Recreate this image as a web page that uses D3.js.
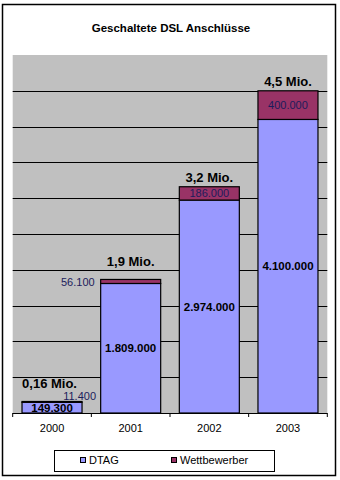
<!DOCTYPE html>
<html lang="de">
<head>
    <meta charset="UTF-8">
    <title>Geschaltete DSL Anschlüsse</title>
    <script src="https://d3js.org/d3.v7.min.js"></script>
    <style>
        body { margin: 0; background: #fff; }
        text { font-family: "Liberation Sans", Arial, sans-serif; }
    </style>
</head>
<body>
<svg width="340" height="480"></svg>
<script>
    // data
    const years = ["2000", "2001", "2002", "2003"];
    const dtag = [149300, 1809000, 2974000, 4100000];
    const wettbewerber = [11400, 56100, 186000, 400000];
    const totalLabels = ["0,16 Mio.", "1,9 Mio.", "3,2 Mio.", "4,5 Mio."];
    const seriesNames = ["DTAG", "Wettbewerber"];
    const colors = ["#9999FF", "#993366"];

    const de = d3.formatLocale({decimal: ",", thousands: ".", grouping: [3], currency: ["", " €"]});
    const fmt = de.format(",d");

    let svg = d3.select("svg");

    // outer frame
    svg.append("rect")
        .attr("x", 2.5).attr("y", 4.5)
        .attr("width", 333).attr("height", 471)
        .attr("fill", "#fff").attr("stroke", "#000").attr("stroke-width", 1.5);

    svg.append("text")
        .attr("x", 171).attr("y", 32)
        .attr("text-anchor", "middle")
        .attr("font-size", "11.5px").attr("font-weight", "bold")
        .attr("fill", "#000")
        .text("Geschaltete DSL Anschlüsse");

    const plot = {left: 12.7, right: 327.3, top: 55, bottom: 413};

    let x = d3.scaleBand().domain(years).range([plot.left, plot.right]).padding(0);
    let y = d3.scaleLinear().domain([0, 5000000]).range([plot.bottom, plot.top]);
    const barW = x.bandwidth() * 0.763;

    // plot background
    svg.append("rect")
        .attr("x", plot.left).attr("y", plot.top)
        .attr("width", plot.right - plot.left).attr("height", plot.bottom - plot.top)
        .attr("fill", "#C0C0C0");

    // gridlines
    svg.append("g").selectAll("line")
        .data(d3.range(500000, 5000000, 500000))
        .join("line")
        .attr("x1", plot.left).attr("x2", plot.right)
        .attr("y1", d => Math.round(y(d)) + 0.5).attr("y2", d => Math.round(y(d)) + 0.5)
        .attr("stroke", "#000").attr("stroke-width", 1);

    // stacked data
    const rows = years.map((yr, i) => ({year: yr, DTAG: dtag[i], Wettbewerber: wettbewerber[i], i: i}));
    const stacked = d3.stack().keys(seriesNames)(rows);

    let layers = svg.append("g").selectAll("g")
        .data(stacked)
        .join("g")
        .attr("fill", (d, i) => colors[i]);

    layers.selectAll("rect")
        .data(d => d)
        .join("rect")
        .attr("x", d => x(d.data.year) + (x.bandwidth() - barW) / 2)
        .attr("width", barW)
        .attr("y", d => y(d[1]))
        .attr("height", d => y(d[0]) - y(d[1]))
        .attr("stroke", "#000").attr("stroke-width", 1.2);

    // x axis
    svg.append("line")
        .attr("x1", plot.left).attr("x2", plot.right)
        .attr("y1", plot.bottom + 0.5).attr("y2", plot.bottom + 0.5)
        .attr("stroke", "#000").attr("stroke-width", 1);
    const bounds = years.map(d => x(d)).concat([plot.right]);
    svg.append("g").selectAll("line")
        .data(bounds)
        .join("line")
        .attr("x1", d => d).attr("x2", d => d)
        .attr("y1", plot.bottom).attr("y2", plot.bottom + 4)
        .attr("stroke", "#000");
    svg.append("g").selectAll("text")
        .data(years)
        .join("text")
        .attr("x", d => x(d) + x.bandwidth() / 2)
        .attr("y", 432)
        .attr("text-anchor", "middle")
        .attr("font-size", "11px")
        .text(d => d);

    // DTAG value labels (bold, centered in the segment)
    svg.append("g").selectAll("text")
        .data(stacked[0])
        .join("text")
        .attr("x", d => x(d.data.year) + x.bandwidth() / 2)
        .attr("y", d => (y(d[0]) + y(d[1])) / 2 + 4)
        .attr("text-anchor", "middle")
        .attr("font-size", "11.5px").attr("font-weight", "bold")
        .text(d => fmt(d.data.DTAG));

    // Wettbewerber value labels
    svg.append("g").selectAll("text")
        .data(stacked[1])
        .join("text")
        .attr("font-size", "11px")
        .attr("fill", "#1c1c5c")
        .each(function (d) {
            let t = d3.select(this);
            let left = x(d.data.year) + (x.bandwidth() - barW) / 2;
            let h = y(d[0]) - y(d[1]);
            let mid = (y(d[0]) + y(d[1])) / 2;
            if (h >= 12) {
                t.attr("x", left + barW / 2).attr("y", mid + 4).attr("text-anchor", "middle");
            } else if (left - plot.left > 40) {
                t.attr("x", left - 6).attr("y", mid + 5).attr("text-anchor", "end");
            } else {
                t.attr("x", left + barW + 14).attr("y", y(d[1]) - 1).attr("text-anchor", "end");
            }
        })
        .text(d => fmt(d.data.Wettbewerber));

    // total labels
    svg.append("g").selectAll("text")
        .data(stacked[1])
        .join("text")
        .attr("x", d => x(d.data.year) + x.bandwidth() / 2 - (d.data.i === 0 ? 2.5 : 0))
        .attr("y", d => y(d[1]) - ((y(d[0]) - y(d[1])) < 12 ? 13.5 : 5))
        .attr("text-anchor", "middle")
        .attr("font-size", "13px").attr("font-weight", "bold")
        .text((d, i) => totalLabels[i]);

    // legend
    let legend = svg.append("g");
    legend.append("rect")
        .attr("x", 54.5).attr("y", 450.5)
        .attr("width", 220).attr("height", 21)
        .attr("fill", "#fff").attr("stroke", "#000").attr("stroke-width", 1);
    const legendX = [80, 171];
    let items = legend.selectAll("g")
        .data(seriesNames)
        .join("g")
        .attr("transform", (d, i) => "translate(" + legendX[i] + ",457)");
    items.append("rect")
        .attr("x", 0.5).attr("y", 0.5)
        .attr("width", 5).attr("height", 5)
        .attr("fill", (d, i) => colors[i])
        .attr("stroke", "#000").attr("stroke-width", 1);
    items.append("text")
        .attr("x", 9).attr("y", 7)
        .attr("font-size", "11px")
        .text(d => d);
</script>
</body>
</html>
